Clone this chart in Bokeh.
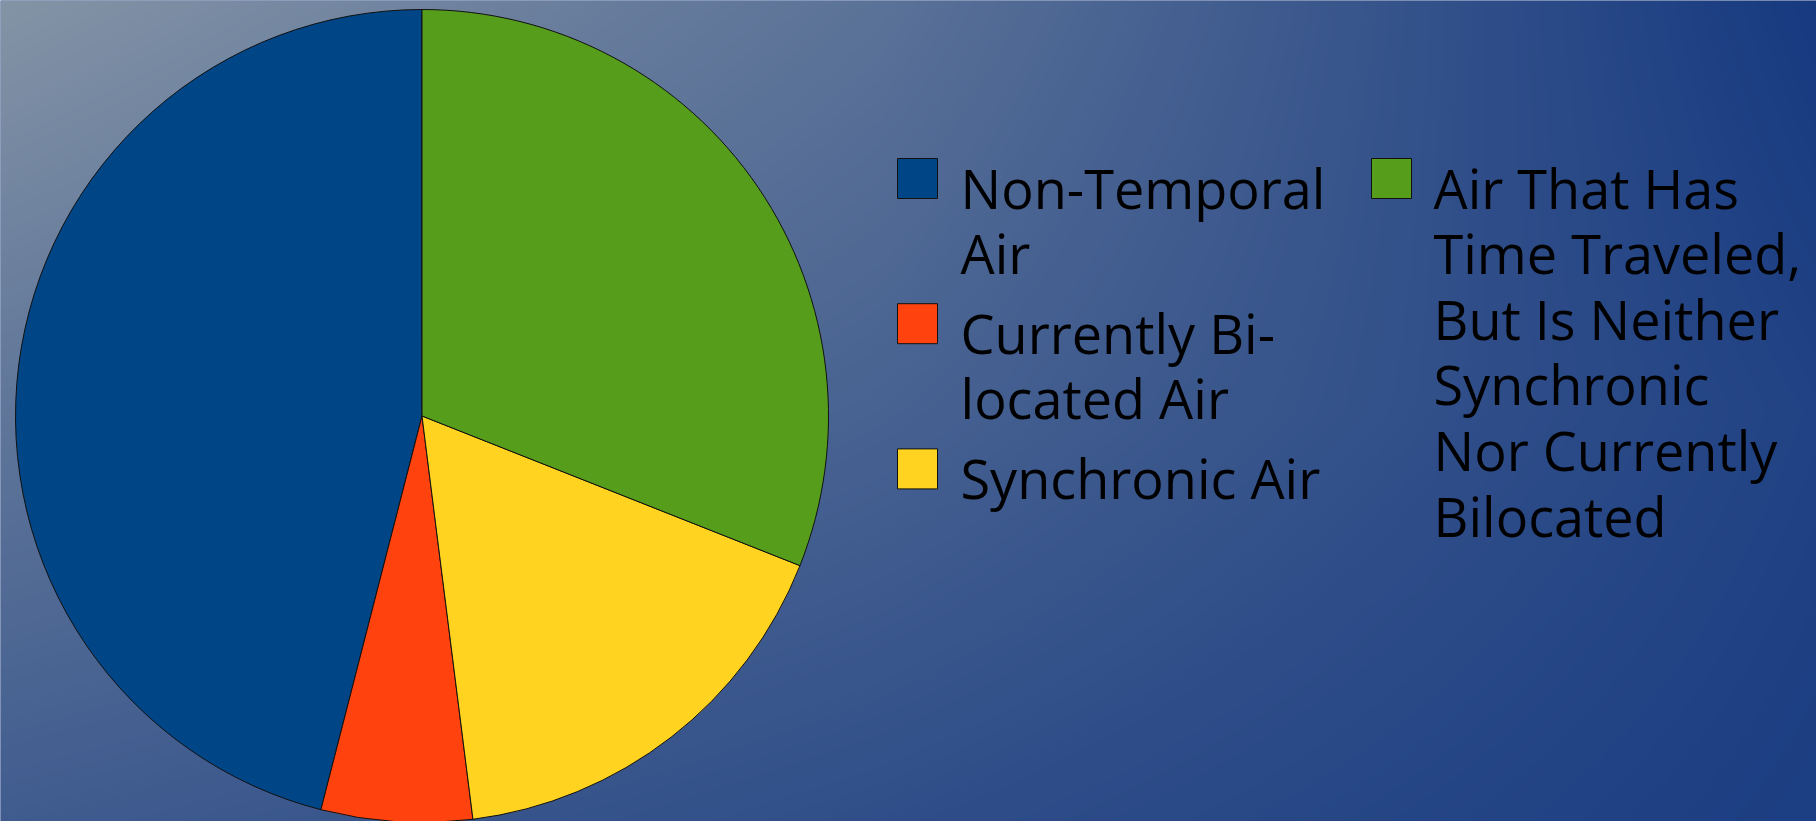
import numpy as np
from bokeh.plotting import figure
from bokeh.models import Range1d, ColumnDataSource
from bokeh.core.properties import value
from bokeh.embed import file_html
from bokeh.resources import INLINE

# ---- data ----
categories = [
    "Non-Temporal\nAir",
    "Currently Bi-\nlocated Air",
    "Synchronic Air",
    "Air That Has\nTime Traveled,\nBut Is Neither\nSynchronic\nNor Currently\nBilocated",
]
shares = [46, 6, 17, 31]
colors = ["#004586", "#ff420e", "#ffd320", "#579d1c"]
legend_column = [0, 0, 0, 1]

# ---- canvas geometry (pixel coords; y data = H - screen y) ----
W, H = 1816, 821

p = figure(width=W, height=H, output_backend="svg", toolbar_location=None,
           x_range=Range1d(0, W), y_range=Range1d(0, H),
           x_axis_type=None, y_axis_type=None, min_border=0)
p.outline_line_color = None
p.background_fill_color = "#2a4a8a"
p.border_fill_color = "#2a4a8a"

# ---- background gradient (decoration) ----
nx, ny = 908, 411
X = (np.arange(nx) + 0.5) * W / nx
Ys = H - (np.arange(ny) + 0.5) * H / ny
gx = np.array([0.0, 880.0, 1816.0])
gy = np.array([0.0, 410.0, 821.0])
gt = np.array([[0.00, 0.37, 1.00],
               [0.33, 0.55, 0.90],
               [0.62, 0.77, 0.95]])
# bilinear interpolation of the ramp position
tx_rows = np.array([np.interp(X, gx, gt[k]) for k in range(3)])  # (3, nx)
t = np.empty((ny, nx))
for j, ysv in enumerate(Ys):
    t[j] = np.array([np.interp(ysv, gy, tx_rows[:, i]) for i in range(0, 1)] and
                    [np.interp(ysv, gy, tx_rows[:, i]) for i in range(nx)])
light = np.array([132, 148, 166], dtype=float)
dark = np.array([22, 57, 128], dtype=float)
rgba = np.zeros((ny, nx, 4), dtype=np.uint8)
for c in range(3):
    rgba[:, :, c] = np.round(light[c] + (dark[c] - light[c]) * t).astype(np.uint8)
rgba[:, :, 3] = 255
img = rgba.view(np.uint32).reshape(ny, nx)
p.image_rgba(image=[img], x=0, y=0, dw=W, dh=H)

# ---- pie ----
cx, cy, r = 421.5, H - 415.5, 406.5
vals = np.array(shares, dtype=float)
total = vals.sum()
cum = np.cumsum(vals)
start = np.pi / 2 + 2 * np.pi * (cum - vals) / total
end = np.pi / 2 + 2 * np.pi * cum / total
src = ColumnDataSource(dict(start=start, end=end, color=colors, label=categories))
p.wedge(x=cx, y=cy, radius=r, start_angle="start", end_angle="end",
        direction="anticlock", fill_color="color", line_color="#111111",
        line_width=1, source=src)

# ---- legend (drawn) ----
col_square_x = [917, 1391]
col_text_x = [960, 1433]
top_square_y = 178
line_h = 65.6
item_gap = 14
baseline_off = 31 - 22
sq = 40
font = value("Open Sans")
fsize = "54px"

col_y = [top_square_y, top_square_y]
sx, sy, sc = [], [], []
tx, ty, tt = [], [], []
for lab, colr, col in zip(categories, colors, legend_column):
    ys = col_y[col]
    sx.append(col_square_x[col]); sy.append(H - ys); sc.append(colr)
    lines = lab.split("\n")
    for k, ln in enumerate(lines):
        tx.append(col_text_x[col])
        ty.append(H - (ys + baseline_off + k * line_h))
        tt.append(ln)
    col_y[col] = ys + len(lines) * line_h + item_gap

p.rect(x=sx, y=sy, width=sq, height=sq, fill_color=sc, line_color="#111111", line_width=1)
p.text(x=tx, y=ty, text=tt, text_font=font, text_font_size=fsize,
       text_color="#000000", text_baseline="alphabetic", text_align="left")

open("out.html", "w").write(file_html(p, INLINE))
